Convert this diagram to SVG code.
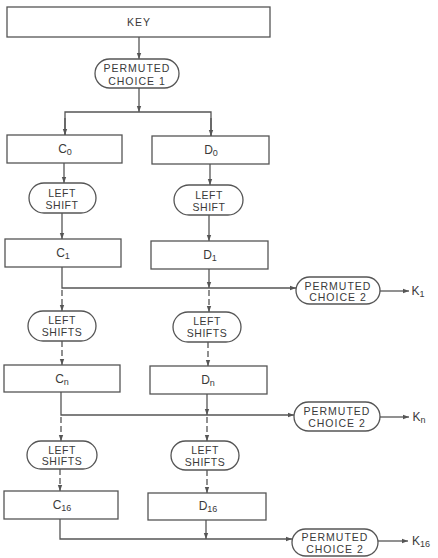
<svg xmlns="http://www.w3.org/2000/svg" width="438" height="558" viewBox="0 0 438 558">
<style>
  .box{fill:#fff;stroke:#555;stroke-width:1.3}
  .pill{fill:#fff;stroke:#555;stroke-width:1.3}
  .ln{fill:none;stroke:#555;stroke-width:1.3}
  .dash{fill:none;stroke:#555;stroke-width:1.3;stroke-dasharray:6 3}
  text{font-family:"Liberation Sans",Arial,sans-serif;font-size:10.5px;fill:#3a3a3a;text-anchor:middle}
  .w{letter-spacing:1px}
  .s{letter-spacing:0.5px}
  .lbl{font-size:12px}
  .sub{font-size:9px}
</style>
<defs>
  <marker id="ah" markerUnits="userSpaceOnUse" markerWidth="7" markerHeight="6" refX="6" refY="3" orient="auto">
    <path d="M0,0.8 L6,3 L0,5.2 Z" fill="#555"/>
  </marker>
</defs>
<rect width="438" height="558" fill="#fff"/>
<g id="connectors">
  <line class="ln" x1="139" y1="37" x2="139" y2="59" marker-end="url(#ah)"/>
  <line class="ln" x1="139" y1="88" x2="139" y2="112" marker-end="url(#ah)"/>
  <polyline class="ln" points="65,135 65,112 211,112 211,136"/>
  <line class="ln" x1="65" y1="118" x2="65" y2="135" marker-end="url(#ah)"/>
  <line class="ln" x1="211" y1="118" x2="211" y2="136" marker-end="url(#ah)"/>
  <line class="ln" x1="64" y1="163" x2="64" y2="183" marker-end="url(#ah)"/>
  <line class="ln" x1="210" y1="164" x2="210" y2="185" marker-end="url(#ah)"/>
  <line class="ln" x1="62" y1="213" x2="62" y2="239" marker-end="url(#ah)"/>
  <line class="ln" x1="209" y1="215" x2="209" y2="241" marker-end="url(#ah)"/>
  <polyline class="ln" points="62,267 62,288 296,288" marker-end="url(#ah)"/>
  <line class="ln" x1="209" y1="269" x2="209" y2="288" marker-end="url(#ah)"/>
  <line class="ln" x1="380" y1="291" x2="409" y2="291" marker-end="url(#ah)"/>
  <line class="dash" x1="62" y1="290" x2="62" y2="311" marker-end="url(#ah)"/>
  <line class="dash" x1="209" y1="290" x2="209" y2="312" marker-end="url(#ah)"/>
  <line class="dash" x1="62" y1="341" x2="62" y2="365" marker-end="url(#ah)"/>
  <line class="dash" x1="208" y1="342" x2="208" y2="366" marker-end="url(#ah)"/>
  <polyline class="ln" points="61,392 61,415 294,415" marker-end="url(#ah)"/>
  <line class="ln" x1="207" y1="394" x2="207" y2="415" marker-end="url(#ah)"/>
  <line class="ln" x1="380" y1="417" x2="409" y2="417" marker-end="url(#ah)"/>
  <line class="dash" x1="61" y1="417" x2="61" y2="441" marker-end="url(#ah)"/>
  <line class="dash" x1="207" y1="417" x2="207" y2="441" marker-end="url(#ah)"/>
  <line class="dash" x1="60" y1="469" x2="60" y2="491" marker-end="url(#ah)"/>
  <line class="dash" x1="207" y1="470" x2="207" y2="493" marker-end="url(#ah)"/>
  <polyline class="ln" points="60,519 60,539 292,539" marker-end="url(#ah)"/>
  <line class="ln" x1="206" y1="520" x2="206" y2="539" marker-end="url(#ah)"/>
  <line class="ln" x1="378" y1="541" x2="408" y2="541" marker-end="url(#ah)"/>
</g>
<g id="key">
  <rect class="box" x="7" y="7" width="263" height="30"/>
  <text class="w" x="139" y="26">KEY</text>
</g>
<g id="pc1">
  <rect class="pill" x="95" y="59" width="84" height="29" rx="14.5"/>
  <text class="w" x="137" y="72">PERMUTED</text>
  <text class="w" x="137" y="85">CHOICE 1</text>
</g>
<g id="c0">
  <rect class="box" x="7" y="135" width="115" height="28"/>
  <text class="lbl" x="65" y="153">C<tspan class="sub" dy="2">0</tspan></text>
</g>
<g id="d0">
  <rect class="box" x="152" y="136" width="117" height="28"/>
  <text class="lbl" x="211" y="154">D<tspan class="sub" dy="2">0</tspan></text>
</g>
<g id="ls1c">
  <rect class="pill" x="29" y="183" width="67" height="30" rx="15"/>
  <text class="s" x="62" y="197">LEFT</text>
  <text class="s" x="62" y="209">SHIFT</text>
</g>
<g id="ls1d">
  <rect class="pill" x="174" y="185" width="69" height="30" rx="15"/>
  <text class="s" x="209" y="199">LEFT</text>
  <text class="s" x="209" y="211">SHIFT</text>
</g>
<g id="c1">
  <rect class="box" x="5" y="239" width="116" height="28"/>
  <text class="lbl" x="63" y="257">C<tspan class="sub" dy="2">1</tspan></text>
</g>
<g id="d1">
  <rect class="box" x="151" y="241" width="117" height="28"/>
  <text class="lbl" x="210" y="259">D<tspan class="sub" dy="2">1</tspan></text>
</g>
<g id="pc2a">
  <rect class="pill" x="296" y="277" width="84" height="27" rx="13.5"/>
  <text class="w" x="338" y="290">PERMUTED</text>
  <text class="w" x="338" y="301">CHOICE 2</text>
  <text class="lbl" x="418" y="295">K<tspan class="sub" dy="2">1</tspan></text>
</g>
<g id="ls2c">
  <rect class="pill" x="28" y="311" width="68" height="30" rx="15"/>
  <text class="s" x="62" y="324">LEFT</text>
  <text class="s" x="62" y="336">SHIFTS</text>
</g>
<g id="ls2d">
  <rect class="pill" x="173" y="312" width="68" height="30" rx="15"/>
  <text class="s" x="207" y="325">LEFT</text>
  <text class="s" x="207" y="337">SHIFTS</text>
</g>
<g id="cn">
  <rect class="box" x="4" y="365" width="116" height="27"/>
  <text class="lbl" x="62" y="383">C<tspan class="sub" dy="2">n</tspan></text>
</g>
<g id="dn">
  <rect class="box" x="150" y="366" width="117" height="28"/>
  <text class="lbl" x="208" y="384">D<tspan class="sub" dy="2">n</tspan></text>
</g>
<g id="pc2b">
  <rect class="pill" x="294" y="402" width="86" height="29" rx="14.5"/>
  <text class="w" x="337" y="415">PERMUTED</text>
  <text class="w" x="337" y="427">CHOICE 2</text>
  <text class="lbl" x="419" y="421">K<tspan class="sub" dy="2">n</tspan></text>
</g>
<g id="ls3c">
  <rect class="pill" x="27" y="441" width="70" height="28" rx="14"/>
  <text class="s" x="62" y="454">LEFT</text>
  <text class="s" x="62" y="465">SHIFTS</text>
</g>
<g id="ls3d">
  <rect class="pill" x="171" y="441" width="68" height="29" rx="14.5"/>
  <text class="s" x="205" y="454">LEFT</text>
  <text class="s" x="205" y="466">SHIFTS</text>
</g>
<g id="c16">
  <rect class="box" x="4" y="491" width="114" height="28"/>
  <text class="lbl" x="62" y="509">C<tspan class="sub" dy="2">16</tspan></text>
</g>
<g id="d16">
  <rect class="box" x="148" y="493" width="118" height="27"/>
  <text class="lbl" x="208" y="510">D<tspan class="sub" dy="2">16</tspan></text>
</g>
<g id="pc2c">
  <rect class="pill" x="292" y="529" width="86" height="27" rx="13.5"/>
  <text class="w" x="335" y="541">PERMUTED</text>
  <text class="w" x="335" y="553">CHOICE 2</text>
  <text class="lbl" x="421" y="545">K<tspan class="sub" dy="2">16</tspan></text>
</g>
</svg>
